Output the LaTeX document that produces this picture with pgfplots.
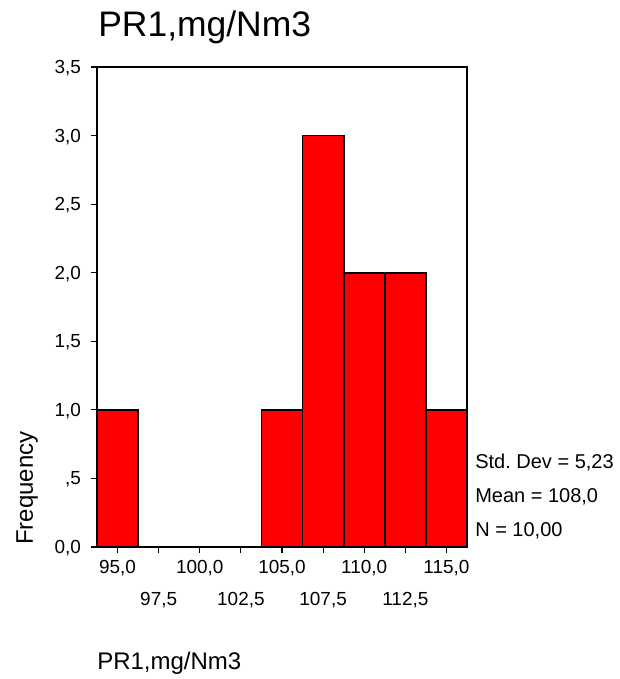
\documentclass[border=0pt]{standalone}
\usepackage{pgfplots}
\pgfplotsset{compat=1.18}
\usepackage{fontspec}
\setmainfont{Liberation Sans}

\begin{document}
\frenchspacing
\begin{tikzpicture}
\path[use as bounding box] (0,0) rectangle (464.25pt,509.25pt);
\begin{axis}[
  at={(72.75pt,99pt)}, anchor=south west,
  scale only axis, width=277.5pt, height=360pt,
  xmin=93.75, xmax=116.25, ymin=0, ymax=3.5,
  axis line style={line width=1.1pt},
  tick align=outside, major tick length=4.5pt,
  tick style={black, line width=0.9pt},
  xtick pos=bottom, ytick pos=left,
  xtick={95,100,105,110,115},
  xticklabels={{95,0},{100,0},{105,0},{110,0},{115,0}},
  extra x ticks={97.5,102.5,107.5,112.5},
  extra x tick labels={{97,5},{102,5},{107,5},{112,5}},
  xticklabel style={anchor=base, yshift=-15.5pt},
  extra x tick style={xticklabel style={yshift=-24pt}},
  ytick={0,0.5,1,1.5,2,2.5,3,3.5},
  yticklabels={{0,0},{,5},{1,0},{1,5},{2,0},{2,5},{3,0},{3,5}},
  yticklabel style={xshift=-4pt, yshift=-0.8pt},
  tick label style={font=\fontsize{14.2}{16}\selectfont},
]
\addplot[ybar interval, fill=red, draw=black, line width=1.3pt]
  coordinates {(93.75,1) (96.25,0) (98.75,0) (101.25,0) (103.75,1)
               (106.25,3) (108.75,2) (111.25,2) (113.75,1) (116.25,1)};
\end{axis}
\begin{scope}[x=0.75pt, y=0.75pt]
\node[anchor=base west, inner sep=0, font=\fontsize{26.6}{30}\selectfont] at (98,642) {PR1,mg/Nm3};
\node[anchor=base west, inner sep=0, rotate=90, font=\fontsize{18}{21}\selectfont] at (33,134) {Frequency};
\node[anchor=base west, inner sep=0, font=\fontsize{18}{21}\selectfont] at (97,9) {PR1,mg/Nm3};
\node[anchor=base west, inner sep=0, font=\fontsize{15}{18}\selectfont] at (475,210) {Std. Dev = 5,23};
\node[anchor=base west, inner sep=0, font=\fontsize{15}{18}\selectfont] at (475,176) {Mean = 108,0};
\node[anchor=base west, inner sep=0, font=\fontsize{15}{18}\selectfont] at (475,142) {N = 10,00};
\end{scope}
\end{tikzpicture}
\end{document}
